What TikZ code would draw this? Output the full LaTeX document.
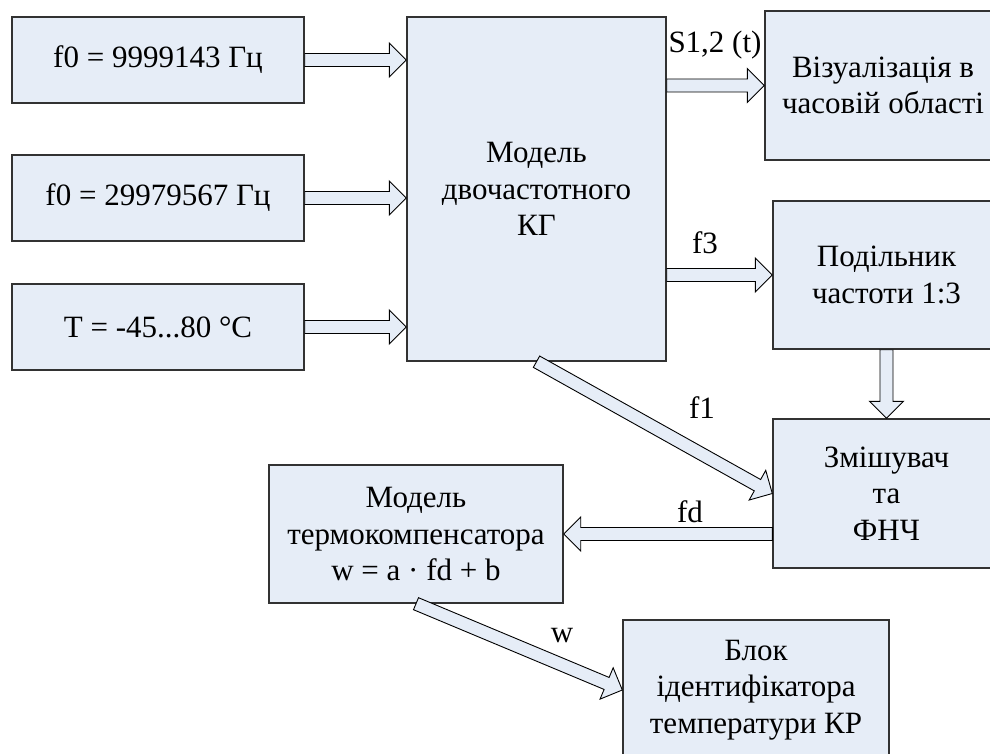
\documentclass[tikz,border=0pt]{standalone}
\usepackage{fontspec}
\setmainfont{Liberation Serif}
\newfontfamily\diagfont{Liberation Serif}
\usetikzlibrary{calc}
\definecolor{boxfill}{RGB}{230,237,247}
\definecolor{boxline}{RGB}{50,50,50}
\tikzset{
  blk/.style={draw=boxline, line width=1.4pt, fill=boxfill, rectangle,
    inner sep=0pt, align=center,
    font=\diagfont\fontsize{31}{36.5}\selectfont},
  barr/.style={draw=black, line width=0.9pt, fill=boxfill, line join=miter},
  lbl/.style={font=\diagfont\fontsize{31}{36.5}\selectfont, inner sep=0pt}
}
% block arrow: shaft half-width 6.5, head half-width 17, head length 17
\newcommand\blockarrow[2]{%
  \draw[barr] let \p1=(#1), \p2=(#2),
    \n1={atan2(\y2-\y1,\x2-\x1)}, \n2={veclen(\x2-\x1,\y2-\y1)} in
    ($(\p1)+(\n1+90:6.5)$)
    -- ($(\p1)+(\n1:{\n2-17})+(\n1+90:6.5)$)
    -- ($(\p1)+(\n1:{\n2-17})+(\n1+90:17)$)
    -- (\p2)
    -- ($(\p1)+(\n1:{\n2-17})+(\n1-90:17)$)
    -- ($(\p1)+(\n1:{\n2-17})+(\n1-90:6.5)$)
    -- ($(\p1)+(\n1-90:6.5)$) -- cycle;}
\begin{document}
\begin{tikzpicture}[x=1pt,y=1pt]
\useasboundingbox (0,0) rectangle (990,-754);
\clip (0,0) rectangle (990,-754);

% input blocks
\node[blk, minimum width=292, minimum height=86] (in1) at (158,-60) {f0 = 9999143 Гц};
\node[blk, minimum width=292, minimum height=86] (in2) at (158,-198) {f0 = 29979567 Гц};
\node[blk, minimum width=292, minimum height=86] (in3) at (158,-327) {T = -45...80 °C};

% generator model
\node[blk, minimum width=259, minimum height=344] (model) at (536.5,-189)
  {Модель\\двочастотного\\КГ};

% right column
\node[blk, minimum width=236, minimum height=149] (vis) at (883,-85.5)
  {Візуалізація в\\часовій області};
\node[blk, minimum width=227, minimum height=148] (div) at (886.5,-275)
  {Подільник\\частоти 1:3};
\node[blk, minimum width=227, minimum height=149] (mix) at (886.5,-493.5)
  {Змішувач\\та\\ФНЧ};

% lower blocks
\node[blk, minimum width=294, minimum height=138] (thermo) at (416,-534)
  {Модель\\термокомпенсатора\\w = a · fd + b};
\node[blk, minimum width=266, minimum height=140] (ident) at (756,-690)
  {Блок\\ідентифікатора\\температури КР};

% connectors
\blockarrow{in1.east}{in1.east -| model.west}
\blockarrow{in2.east}{in2.east -| model.west}
\blockarrow{in3.east}{in3.east -| model.west}
\blockarrow{vis.west -| model.east}{vis.west}
\blockarrow{div.west -| model.east}{div.west}
\blockarrow{div.south}{mix.north}
\blockarrow{model.south}{mix.west}
\blockarrow{thermo.east -| mix.west}{thermo.east}
\blockarrow{thermo.south}{ident.west}

% connector labels
\node[lbl] (ls) at (715,-45) {S1,2 (t)};
\node[lbl] (l3) at (705,-243) {f3};
\node[lbl] (l1) at (702,-408) {f1};
\node[lbl] (ld) at (690,-512) {fd};
\node[lbl] (lw) at (562,-636) {w};
\end{tikzpicture}
\end{document}
